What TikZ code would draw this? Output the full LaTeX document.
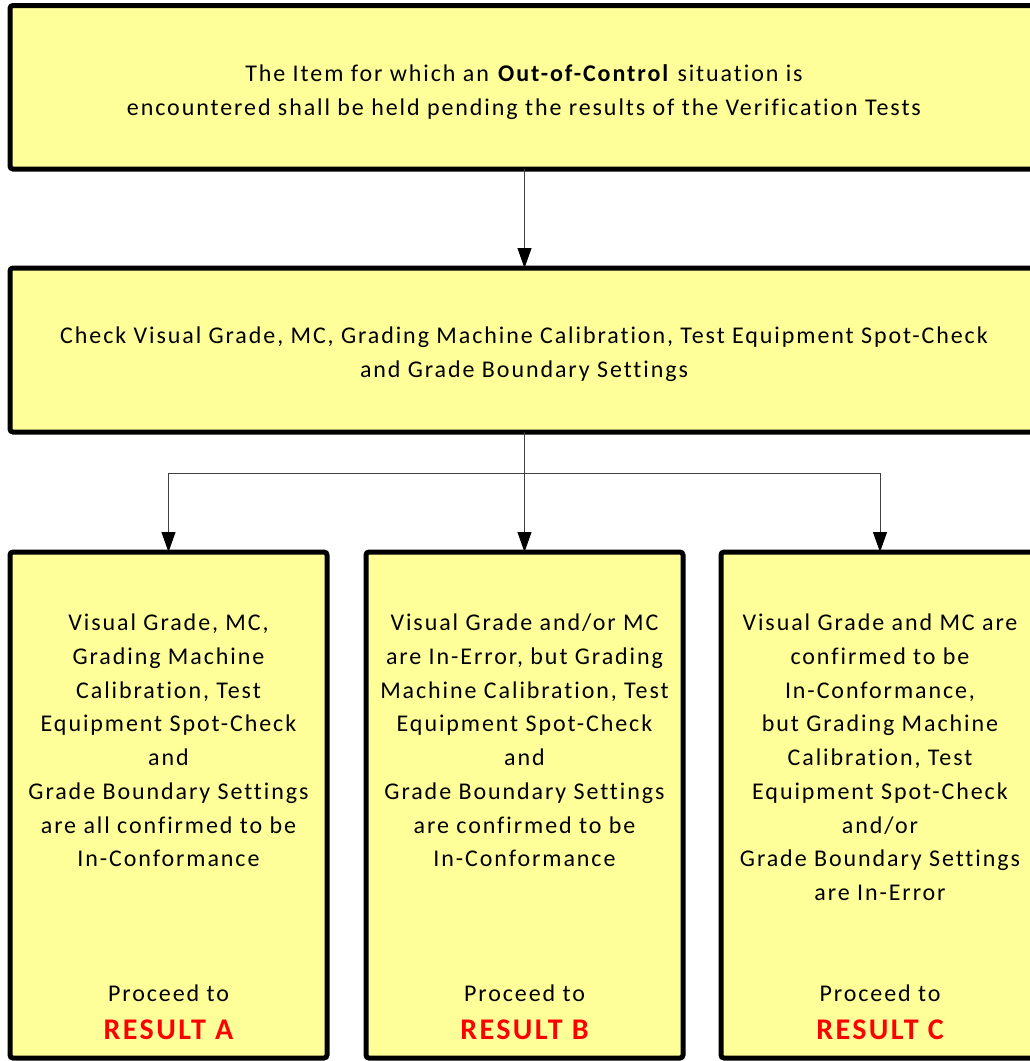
\documentclass[tikz,border=0pt]{standalone}
\usepackage{fontspec}
\setmainfont{Carlito}[Ligatures={NoCommon}, LetterSpace=8]
\usetikzlibrary{arrows.meta}
\definecolor{boxfill}{HTML}{FFFF99}
\definecolor{resred}{HTML}{FF0000}
\tikzset{
  stepbox/.style={draw=black, line width=5pt, fill=boxfill, rounded corners=3pt,
    inner sep=0pt, outer sep=0pt, rectangle},
  txt/.style={align=center, inner sep=0pt, font=\fontsize{24}{33.7}\selectfont},
  restxt/.style={inner sep=0pt, text=resred, font=\fontsize{30}{36}\selectfont\bfseries},
  arr/.style={draw=black!75, line width=1pt, -{Triangle[length=20pt,width=14pt,black]}},
}
\begin{document}
\begin{tikzpicture}[x=1pt,y=-1pt]
\useasboundingbox (0,0) rectangle (1030,1061);
% main boxes
\node[stepbox, minimum width=1029pt, minimum height=163.5pt] (top) at (524.5,87.25) {};
\node[stepbox, minimum width=1029pt, minimum height=164pt] (mid) at (524.5,350) {};
\node[stepbox, minimum width=317pt, minimum height=506pt] (a) at (168.5,805) {};
\node[stepbox, minimum width=317pt, minimum height=506pt] (b) at (524.5,805) {};
\node[stepbox, minimum width=318pt, minimum height=506pt] (c) at (880,805) {};
% texts
\node[txt] (toptxt) at (524,92) {The Item for which an \textbf{Out-of-Control} situation is\\encountered shall be held pending the results of the Verification Tests};
\node[txt] (midtxt) at (524,354) {Check Visual Grade, MC, Grading Machine Calibration, Test Equipment Spot-Check\\and Grade Boundary Settings};
\node[txt, anchor=north] (atxt) at (168.5,614) {Visual Grade, MC,\\Grading Machine\\Calibration, Test\\Equipment Spot-Check\\and\\Grade Boundary Settings\\are all confirmed to be\\In-Conformance};
\node[txt, anchor=north] (btxt) at (524.5,614) {Visual Grade and/or MC\\are In-Error, but Grading\\Machine Calibration, Test\\Equipment Spot-Check\\and\\Grade Boundary Settings\\are confirmed to be\\In-Conformance};
\node[txt, anchor=north] (ctxt) at (880,614) {Visual Grade and MC are\\confirmed to be\\In-Conformance,\\but Grading Machine\\Calibration, Test\\Equipment Spot-Check\\and/or\\Grade Boundary Settings\\are In-Error};
\node[txt, anchor=base] (apro) at (168.5,1001) {Proceed to};
\node[txt, anchor=base] (bpro) at (524.5,1001) {Proceed to};
\node[txt, anchor=base] (cpro) at (880,1001) {Proceed to};
\node[restxt, anchor=base] (ares) at (168.5,1039) {RESULT A};
\node[restxt, anchor=base] (bres) at (524.5,1039) {RESULT B};
\node[restxt, anchor=base] (cres) at (880,1039) {RESULT C};
% connectors
\coordinate (split) at (524.5,473);
\draw[arr] (top.south) -- (mid.north);
\draw[arr] (mid.south) -- (b.north);
\draw[arr] (split) -| (a.north);
\draw[arr] (split) -| (c.north);
\end{tikzpicture}
\end{document}
